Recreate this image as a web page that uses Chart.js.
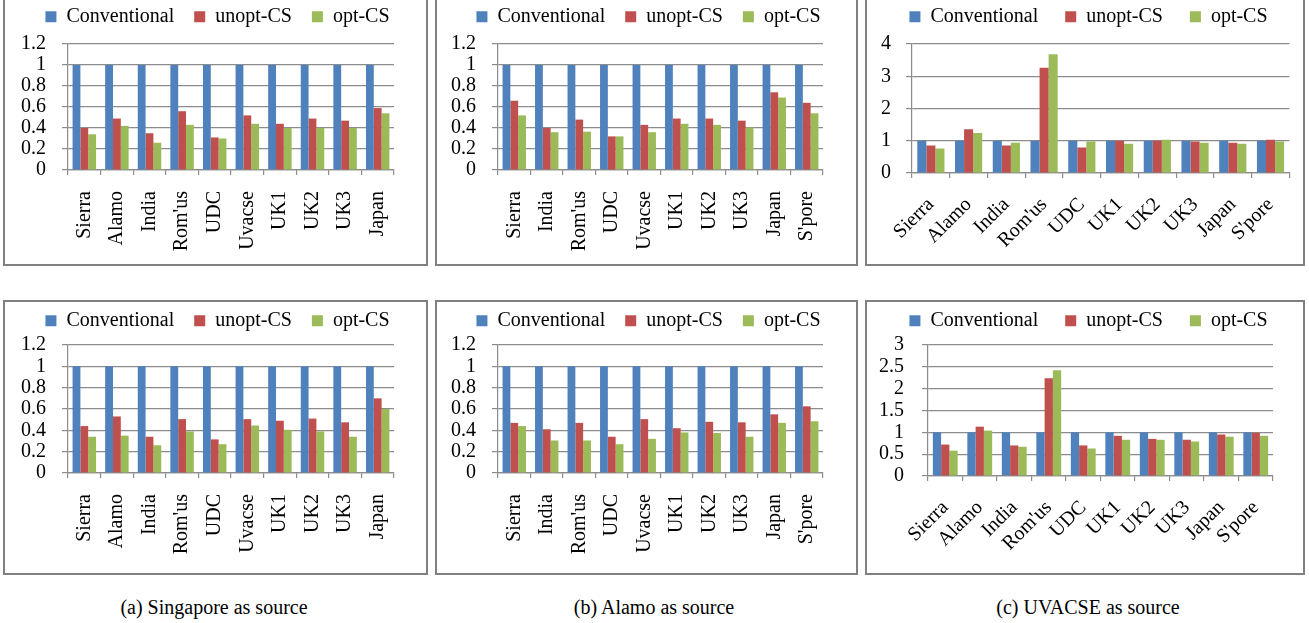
<!DOCTYPE html>
<html>
<head>
<meta charset="utf-8">
<script src="https://cdn.jsdelivr.net/npm/chart.js@4.4.0/dist/chart.umd.min.js"></script>
<style>
    body { margin: 0; background: #fff; width: 1309px; height: 623px; position: relative; overflow: hidden; }
    .panel { position: absolute; border: 2px solid #808080; box-sizing: border-box; }
    canvas { position: absolute; }
    .caption { position: absolute; top: 596px; font-family: 'Liberation Serif', 'Times New Roman', serif; font-size: 20px; color: #000; white-space: nowrap; transform: translateX(-50%); }
</style>
</head>
<body>
<div class="panel" style="left:3px;top:-2px;width:425px;height:268px"></div>
<div class="panel" style="left:435px;top:-2px;width:423px;height:268px"></div>
<div class="panel" style="left:865px;top:-2px;width:440px;height:268px"></div>
<div class="panel" style="left:3px;top:300px;width:425px;height:275px"></div>
<div class="panel" style="left:435px;top:300px;width:423px;height:275px"></div>
<div class="panel" style="left:865px;top:300px;width:440px;height:275px"></div>

<canvas id="a1" width="421" height="262" style="left:5px;top:0px"></canvas>
<canvas id="b1" width="419" height="262" style="left:437px;top:0px"></canvas>
<canvas id="c1" width="436" height="262" style="left:867px;top:0px"></canvas>
<canvas id="a2" width="421" height="268" style="left:5px;top:303px"></canvas>
<canvas id="b2" width="419" height="268" style="left:437px;top:303px"></canvas>
<canvas id="c2" width="436" height="268" style="left:867px;top:303px"></canvas>

<div class="caption" style="left:214px">(a) Singapore as source</div>
<div class="caption" style="left:654px">(b) Alamo as source</div>
<div class="caption" style="left:1088px">(c) UVACSE as source</div>

<script>
const seriesNames = ['Conventional', 'unopt-CS', 'opt-CS'];
const seriesColors = ['#4F81BD', '#C0504D', '#9BBB59'];

const sitesA = ['Sierra', 'Alamo', 'India', "Rom'us", 'UDC', 'Uvacse', 'UK1', 'UK2', 'UK3', 'Japan'];
const sitesB = ['Sierra', 'India', "Rom'us", 'UDC', 'Uvacse', 'UK1', 'UK2', 'UK3', 'Japan', "S'pore"];
const sitesC = ['Sierra', 'Alamo', 'India', "Rom'us", 'UDC', 'UK1', 'UK2', 'UK3', 'Japan', "S'pore"];

const conventional = [1, 1, 1, 1, 1, 1, 1, 1, 1, 1];

// top row
const a1Unopt = [0.40, 0.49, 0.35, 0.56, 0.31, 0.52, 0.44, 0.49, 0.47, 0.59];
const a1Opt = [0.34, 0.42, 0.26, 0.43, 0.30, 0.44, 0.40, 0.40, 0.40, 0.54];
const b1Unopt = [0.66, 0.40, 0.48, 0.32, 0.43, 0.49, 0.49, 0.47, 0.74, 0.64];
const b1Opt = [0.52, 0.36, 0.365, 0.32, 0.36, 0.44, 0.43, 0.405, 0.69, 0.54];
const c1Unopt = [0.85, 1.36, 0.85, 3.26, 0.79, 1.00, 1.00, 0.98, 0.94, 1.03];
const c1Opt = [0.76, 1.24, 0.94, 3.68, 0.98, 0.91, 1.03, 0.94, 0.91, 0.98];

// bottom row
const a2Unopt = [0.44, 0.53, 0.34, 0.505, 0.315, 0.505, 0.49, 0.51, 0.475, 0.70];
const a2Opt = [0.34, 0.35, 0.26, 0.39, 0.27, 0.445, 0.405, 0.39, 0.34, 0.60];
const b2Unopt = [0.47, 0.41, 0.47, 0.34, 0.505, 0.42, 0.48, 0.475, 0.55, 0.625];
const b2Opt = [0.44, 0.305, 0.305, 0.27, 0.32, 0.38, 0.375, 0.34, 0.47, 0.485];
const c2Unopt = [0.72, 1.13, 0.70, 2.24, 0.70, 0.92, 0.85, 0.83, 0.95, 0.99];
const c2Opt = [0.58, 1.04, 0.67, 2.42, 0.63, 0.83, 0.83, 0.79, 0.90, 0.92];

const ticksFrac = [0, 0.2, 0.4, 0.6, 0.8, 1, 1.2];
const ticksC1 = [0, 1, 2, 3, 4];
const ticksC2 = [0, 0.5, 1, 1.5, 2, 2.5, 3];

const FONT = { family: "'Liberation Serif', 'Times New Roman', serif", size: 20 };
const GRID = '#8c8c8c';

// layout: plotTop in canvas pixels, space = gap between legend row and plot, rightW = blank strip right of plot
const panels = [
    { id: 'a1', sites: sitesA, unopt: a1Unopt, opt: a1Opt, ticks: ticksFrac, rot: 90, padL: 4, yW: 63, rightW: 32, plotTop: 44, space: 6, xH: 92, gap: 20, yPad: 16 },
    { id: 'b1', sites: sitesB, unopt: b1Unopt, opt: b1Opt, ticks: ticksFrac, rot: 90, padL: 4, yW: 61, rightW: 33, plotTop: 44, space: 6, xH: 92, gap: 20, yPad: 16 },
    { id: 'c1', sites: sitesC, unopt: c1Unopt, opt: c1Opt, ticks: ticksC1, rot: 45, padL: 7, yW: 45, rightW: 10, plotTop: 44, space: 6, xH: 89, gap: 27, yPad: 15 },
    { id: 'a2', sites: sitesA, unopt: a2Unopt, opt: a2Opt, ticks: ticksFrac, rot: 90, padL: 4, yW: 63, rightW: 32, plotTop: 42, space: 3, xH: 98, gap: 20, yPad: 16 },
    { id: 'b2', sites: sitesB, unopt: b2Unopt, opt: b2Opt, ticks: ticksFrac, rot: 90, padL: 4, yW: 61, rightW: 33, plotTop: 42, space: 3, xH: 98, gap: 20, yPad: 16 },
    { id: 'c2', sites: sitesC, unopt: c2Unopt, opt: c2Opt, ticks: ticksC2, rot: 45, padL: 7, yW: 61, rightW: 30, plotTop: 42, space: 3, xH: 95, gap: 27, yPad: 18 }
];

panels.forEach((p) => {
    const ctx = document.getElementById(p.id);
    const values = [conventional, p.unopt, p.opt];
    new Chart(ctx, {
        type: 'bar',
        data: {
            labels: p.sites,
            datasets: seriesNames.map((name, i) => ({
                label: name,
                data: values[i],
                backgroundColor: seriesColors[i],
                borderWidth: 0,
                categoryPercentage: 0.72,
                barPercentage: 1
            }))
        },
        options: {
            responsive: false,
            animation: false,
            layout: { padding: { top: -40, right: 0, left: p.padL, bottom: 0 } },
            plugins: {
                tooltip: { enabled: false },
                // blank spacer between legend and plot
                subtitle: {
                    display: true,
                    text: ' ',
                    font: { size: 1 },
                    padding: { top: 0, bottom: p.space }
                },
                legend: {
                    position: 'top',
                    weight: 3000,
                    labels: {
                        font: FONT,
                        color: '#000',
                        boxWidth: 11,
                        boxHeight: 11,
                        padding: p.gap
                    }
                }
            },
            scales: {
                x: {
                    grid: { display: true, drawOnChartArea: false, offset: true, color: GRID, tickLength: 5, lineWidth: 1.2 },
                    border: { color: GRID, width: 1.2 },
                    ticks: {
                        font: FONT,
                        color: '#000',
                        autoSkip: false,
                        minRotation: p.rot,
                        maxRotation: p.rot,
                        padding: p.rot === 90 ? 16 : 15
                    },
                    afterFit(scale) { scale.height = p.xH; }
                },
                y: {
                    min: p.ticks[0],
                    max: p.ticks[p.ticks.length - 1],
                    afterBuildTicks(scale) { scale.ticks = p.ticks.map((v) => ({ value: v })); },
                    grid: { color: GRID, tickLength: 6, lineWidth: 1.2 },
                    border: { color: GRID, width: 1.2 },
                    ticks: {
                        font: FONT,
                        color: '#000',
                        padding: p.yPad,
                        autoSkip: false,
                        callback: (v) => String(v)
                    },
                    afterFit(scale) {
                        scale.width = p.yW - p.padL;
                        scale.paddingTop = p.plotTop;
                    }
                },
                yr: {
                    type: 'linear',
                    position: 'right',
                    grid: { display: false },
                    border: { display: false },
                    ticks: { display: false },
                    afterFit(scale) { scale.width = p.rightW; }
                }
            }
        }
    });
});
</script>
</body>
</html>
